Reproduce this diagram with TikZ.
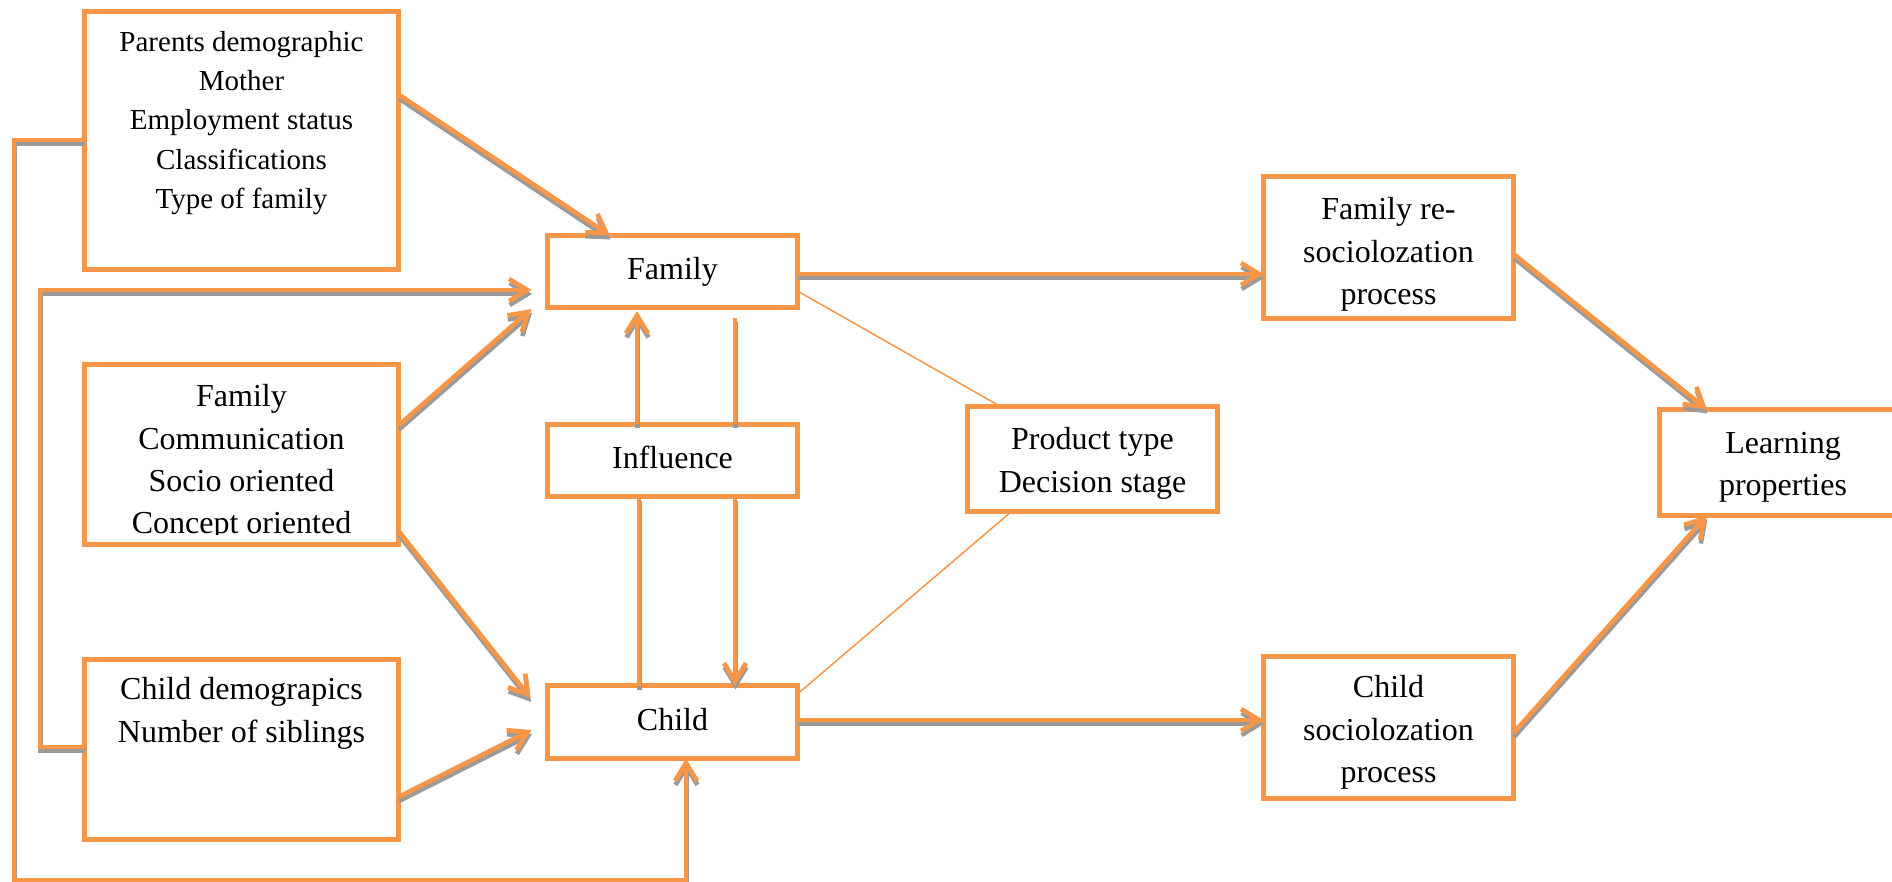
\documentclass[tikz,border=0pt]{standalone}
\usepackage{fontspec}
\setmainfont{Liberation Serif}
\usetikzlibrary{arrows.meta,calc}
\definecolor{orng}{HTML}{F79646}
\definecolor{shgray}{HTML}{9A9A9A}
\tikzset{
  box/.style={draw=orng, line width=2.5pt, rectangle, inner sep=0pt, outer sep=0pt},
  txt/.style={inner sep=0pt, align=center, font=\fontsize{16}{21.2}\selectfont},
  smalltxt/.style={txt, font=\fontsize{14.5}{19.6}\selectfont},
  conn/.style={draw=orng, line width=2.3pt},
  arr/.style={-{Straight Barb[length=9pt,width=11pt]}},
  thin/.style={draw=orng, line width=0.75pt},
}
\newcommand{\shdraw}[2]{%
  \begin{scope}[transform canvas={shift={(0.25pt,-2pt)}}]\draw[conn,#1,draw=shgray] #2;\end{scope}%
  \draw[conn,#1] #2;}
\begin{document}
\begin{tikzpicture}[x=0.5pt,y=-0.5pt]
\useasboundingbox (0,0) rectangle (1892,882);
% boxes
\node[box, minimum width=157pt, minimum height=129pt] (parents) at (241.5,140.5) {};
\node[box, minimum width=157pt, minimum height=90pt] (famcomm) at (241.5,454.5) {};
\node[box, minimum width=157pt, minimum height=90pt] (childdemo) at (241.5,749.5) {};
\node[box, minimum width=125pt, minimum height=36pt] (family) at (672.5,271.5) {};
\node[box, minimum width=125pt, minimum height=36pt] (influence) at (672.5,460.5) {};
\node[box, minimum width=125pt, minimum height=36.5pt] (child) at (672.5,722) {};
\node[box, minimum width=125pt, minimum height=52.5pt] (product) at (1092.5,459) {};
\node[box, minimum width=125pt, minimum height=71pt] (famre) at (1388.5,247.5) {};
\node[box, minimum width=125pt, minimum height=71pt] (childsoc) at (1388.5,727.5) {};
\node[box, minimum width=123.5pt, minimum height=53pt] (learning) at (1783,462.5) {};
% texts
\node[smalltxt, anchor=north] (parentsT) at (241.5,31) {Parents demographic\\Mother\\Employment status\\Classifications\\Type of family};
\begin{scope}
\clip (famcomm.north west) rectangle ($(famcomm.south east)+(0,-10.5)$);
\node[txt, anchor=north] (famcommT) at (241.5,384) {Family\\Communication\\Socio oriented\\Concept oriented};
\end{scope}
\node[txt, anchor=north] (childdemoT) at (241.5,677) {Child demograpics\\Number of siblings};
\node[txt, anchor=base] (familyT) at (672.5,280) {Family};
\node[txt, anchor=base] (influenceT) at (672.5,468) {Influence};
\node[txt, anchor=base] (childT) at (672.5,730) {Child};
\node[txt, anchor=north] (productT) at (1092.5,427) {Product type\\Decision stage};
\node[txt, anchor=north] (famreT) at (1388.5,197) {Family re-\\sociolozation\\process};
\node[txt, anchor=north] (childsocT) at (1388.5,675) {Child\\sociolozation\\process};
\node[txt, anchor=north] (learningT) at (1783,432) {Learning\\properties};
% thin lines
\draw[thin] ($(family.east)+(0,19.5)$) -- ($(product.north west)+(33,0)$);
\draw[thin] ($(product.south west)+(44,0)$) -- ($(child.east)+(0,-28)$);
% connectors
\shdraw{arr}{($(parents.north east)+(0,83)$) -- ($(family.north west)+(62.5,0)$)}
\shdraw{arr}{($(famcomm.north east)+(0,61)$) -- ($(family.south west)+(-16,1.5)$)}
\shdraw{arr}{($(childdemo.north west)+(0,87.5)$) -- ++(-44.5,0) |- ($(family.west)+(-16,18.5)$)}
\shdraw{arr}{($(famcomm.north east)+(0,166.5)$) -- ($(child.north west)+(-17,12.5)$)}
\shdraw{arr}{($(childdemo.north east)+(0,137.5)$) -- ($(child.west)+(-16,8)$)}
\shdraw{arr}{($(parents.north west)+(0,128.5)$) -- ++(-70.5,0) -- ++(0,740) -| ($(child.south)+(13.5,0)$)}
\shdraw{arr}{($(family.east)+(0,2.5)$) -- ($(famre.west)+(0,26.5)$)}
\shdraw{arr}{($(child.east)+(0,-2)$) -- ($(childsoc.west)+(0,-7.5)$)}
\shdraw{arr}{($(famre.north east)+(0,77.5)$) -- ($(learning.north west)+(47.5,0)$)}
\shdraw{arr}{($(childsoc.north east)+(0,76.5)$) -- ($(learning.south west)+(47.5,0)$)}
\shdraw{arr}{($(influence.north west)+(89.5,0)$) -- ($(family.south west)+(89.5,3.5)$)}
\shdraw{}{($(influence.north west)+(187.5,0)$) -- ($(family.south west)+(187.5,10.5)$)}
\shdraw{}{($(influence.south west)+(91.5,0)$) -- ($(child.north west)+(91.5,0)$)}
\shdraw{arr}{($(influence.south west)+(187.5,0)$) -- ($(child.north west)+(187.5,0)$)}
\end{tikzpicture}
\end{document}
